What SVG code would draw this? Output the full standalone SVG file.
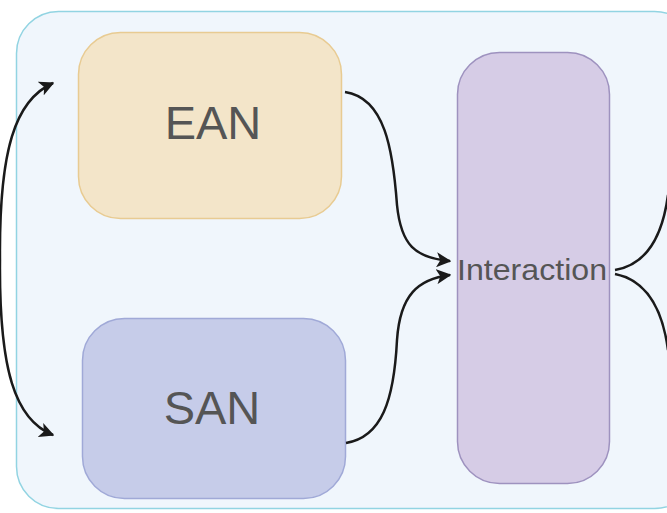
<svg xmlns="http://www.w3.org/2000/svg" width="667" height="513" viewBox="0 0 667 513">
<style>
.lbl{font-family:"Liberation Sans",Arial,sans-serif;fill:#555;text-anchor:middle;dominant-baseline:central}
.c{fill:none;stroke:#1a1a1a;stroke-width:2.5}
</style>
<defs>
<marker id="ah" viewBox="0 0 10 10" refX="9" refY="5" markerWidth="6" markerHeight="6" orient="auto" markerUnits="strokeWidth">
<path d="M0,0 L10,5 L0,10 L2.5,5 Z" fill="#1a1a1a"/>
</marker>
</defs>
<rect width="667" height="513" fill="#ffffff"/>
<g id="container">
<rect x="16.5" y="11.5" width="680" height="497" rx="42" fill="#f0f6fc" stroke="#92d4e2" stroke-width="1.5"/>
</g>
<g id="ean">
<rect x="78.5" y="32.5" width="263" height="186" rx="42" fill="#f3e5c9" stroke="#e8cb92" stroke-width="1.5"/>
<text class="lbl" x="213" y="122" font-size="47">EAN</text>
</g>
<g id="san">
<rect x="82.5" y="318.5" width="263" height="180" rx="42" fill="#c6cce9" stroke="#a0a9d7" stroke-width="1.5"/>
<text class="lbl" x="212" y="407" font-size="47">SAN</text>
</g>
<g id="interaction">
<rect x="457.5" y="52.5" width="152" height="431" rx="42" fill="#d6cce6" stroke="#9e92bf" stroke-width="1.5"/>
<text class="lbl" x="532" y="270" font-size="29" textLength="150" lengthAdjust="spacingAndGlyphs">Interaction</text>
</g>
<g id="connectors">
<path class="c" d="M0,260 C-1,150 15,100 53,83" marker-end="url(#ah)"/>
<path class="c" d="M0,260 C-1,370 15,420 53,435" marker-end="url(#ah)"/>
<path class="c" d="M345,92 C385,98 393,150 397,205 C401,245 415,258 450,261" marker-end="url(#ah)"/>
<path class="c" d="M346,443 C382,437 394,400 397,340 C400,295 418,279 450,275" marker-end="url(#ah)"/>
<path class="c" d="M615,270 C645,265 662,240 668,195"/>
<path class="c" d="M615,274 C645,280 662,305 668,350"/>
</g>
</svg>
